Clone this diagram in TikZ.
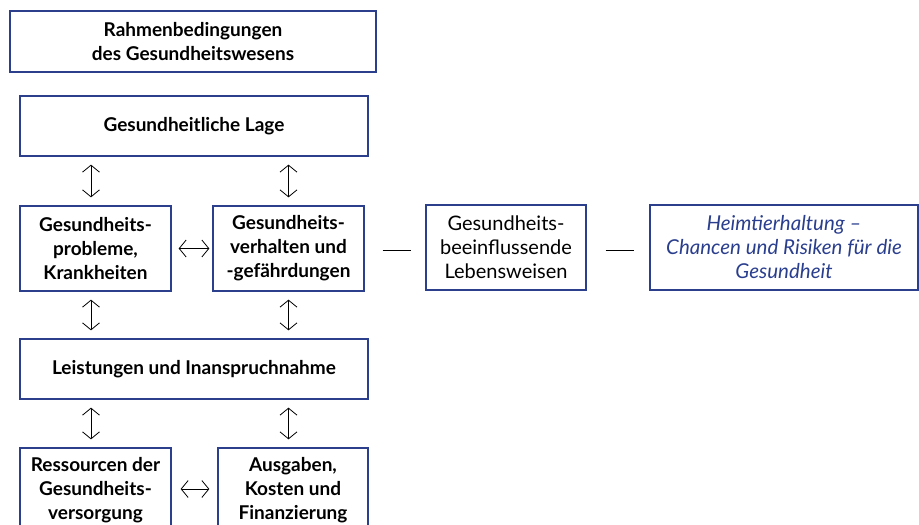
\documentclass[tikz,border=0pt]{standalone}
\usepackage{fontspec}
\setmainfont{Lato}
\usetikzlibrary{positioning,arrows.meta}
\definecolor{boxblue}{HTML}{2B3F8C}
\definecolor{textblue}{HTML}{2A3E8E}

\begin{document}
\begin{tikzpicture}[x=1pt,y=-1pt,
  box/.style={draw=boxblue, line width=1.3pt, align=center, inner sep=0pt,
    font=\fontsize{19}{24}\selectfont\bfseries},
  twoway/.style={{Straight Barb[length=7pt,width=17pt]}-{Straight Barb[length=7pt,width=17pt]},
    line width=0.8pt, shorten <=8pt, shorten >=8pt},
  link/.style={line width=0.8pt}]
  \useasboundingbox (0,0) rectangle (919,525);

  \node[box, minimum width=366pt, minimum height=61pt] at (193,41.5) (rahmen) {Rahmenbedingungen\\des Gesundheitswesens};
  \node[box, minimum width=348pt, minimum height=60pt] at (194,126) (lage) {Gesundheitliche Lage};
  \node[box, minimum width=151pt, minimum height=85pt] at (95.5,248.5) (probleme) {Gesundheits-\\probleme,\\Krankheiten};
  \node[box, minimum width=151pt, minimum height=85pt] at (288.5,248.5) (verhalten) {Gesundheits-\\verhalten und\\-gefährdungen};
  \node[box, minimum width=160pt, minimum height=85pt, font=\fontsize{20}{24}\selectfont] at (506,247.5) (lebensweisen) {Gesundheits-\\beeinflussende\\Lebensweisen};
  \node[box, minimum width=268pt, minimum height=85pt, font=\fontsize{20.5}{24}\selectfont\itshape, text=textblue] at (784,247.5) (heimtier) {Heimtierhaltung –\\Chancen und Risiken für die\\Gesundheit};
  \node[box, minimum width=348pt, minimum height=60pt] at (194,369) (leistungen) {Leistungen und Inanspruchnahme};
  \node[box, minimum width=151pt, minimum height=85pt] at (95.5,490.5) (ressourcen) {Ressourcen der\\Gesundheits-\\versorgung};
  \node[box, minimum width=150pt, minimum height=85pt] at (293,490.5) (ausgaben) {Ausgaben,\\Kosten und\\Finanzierung};

  \coordinate (colL) at (91,0);
  \coordinate (colR) at (288.5,0);

  % vertical links
  \draw[twoway] (lage.south -| colL) -- (probleme.north -| colL);
  \draw[twoway] (lage.south -| colR) -- (verhalten.north -| colR);
  \draw[twoway] (probleme.south -| colL) -- (leistungen.north -| colL);
  \draw[twoway] (verhalten.south -| colR) -- (leistungen.north -| colR);
  \draw[twoway] (leistungen.south -| colL) -- (ressourcen.north -| colL);
  \draw[twoway] (leistungen.south -| colR) -- (ausgaben.north -| colR);

  % horizontal links
  \draw[twoway, shorten <=7pt, shorten >=3pt] (probleme.east) -- (verhalten.west);
  \draw[twoway, shorten <=9pt, shorten >=8pt] ([yshift=1.5pt]ressourcen.east) -- ([yshift=1.5pt]ausgaben.west);
  \draw[link, shorten <=18pt, shorten >=14pt] ([yshift=-1.5pt]verhalten.east) -- ([yshift=-1.5pt]verhalten.east -| lebensweisen.west);
  \draw[link, shorten <=19pt, shorten >=15pt] ([yshift=-2.5pt]lebensweisen.east) -- ([yshift=-2.5pt]lebensweisen.east -| heimtier.west);
\end{tikzpicture}
\end{document}
